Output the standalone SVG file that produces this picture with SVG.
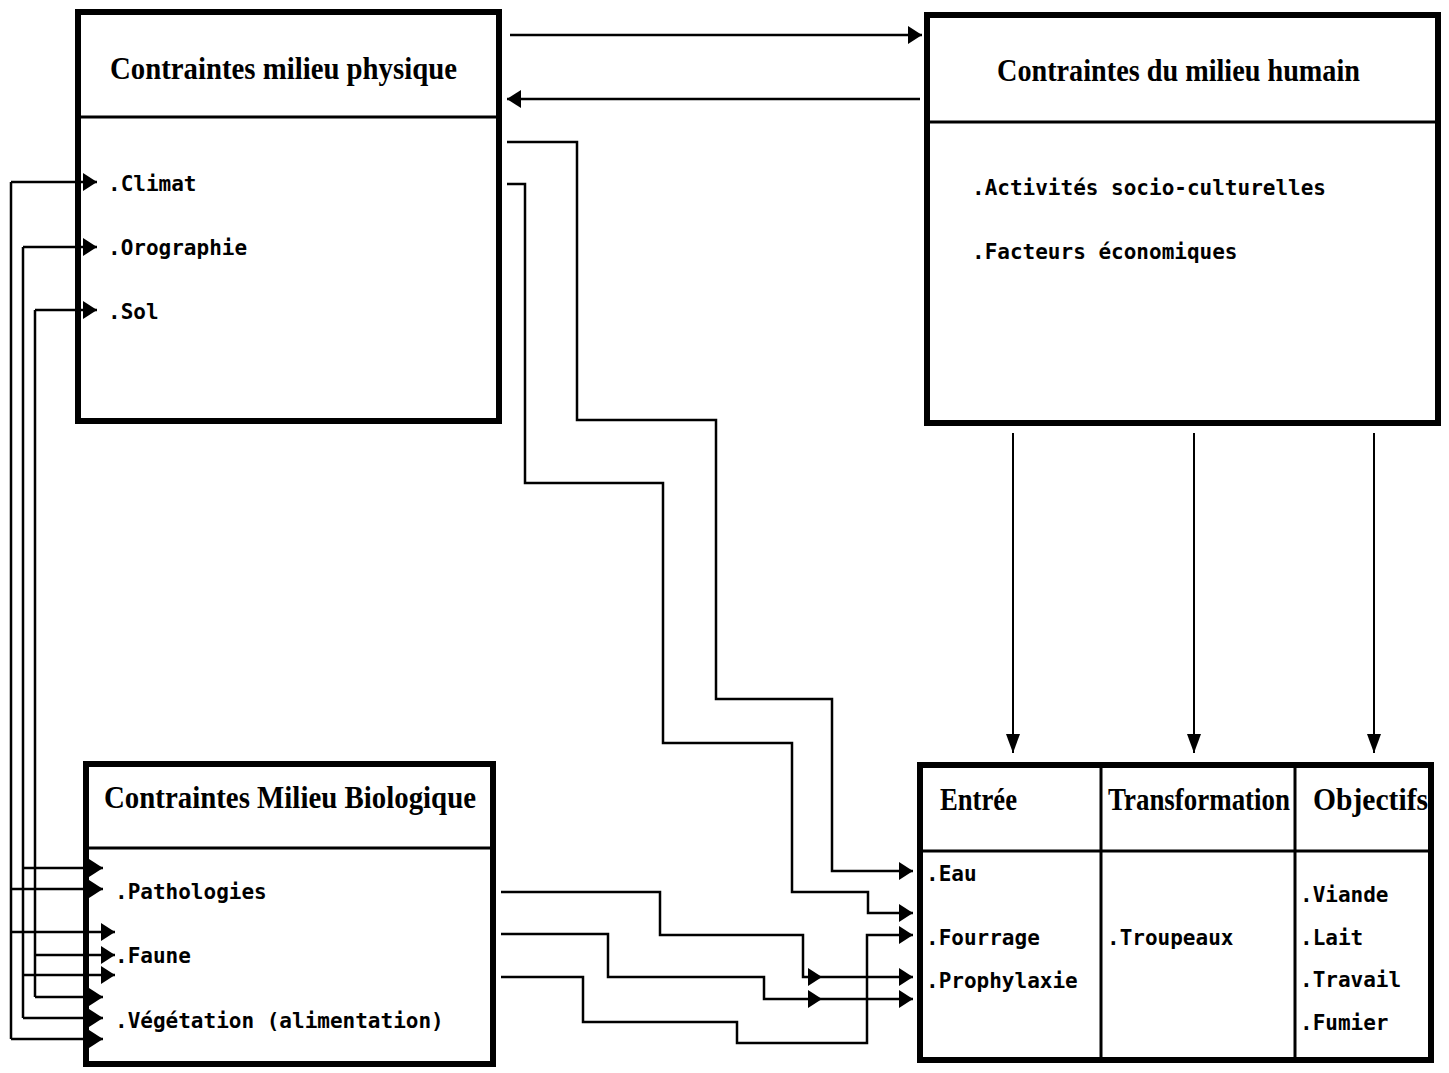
<svg xmlns="http://www.w3.org/2000/svg" width="1449" height="1073" viewBox="0 0 1449 1073">
<style>
.box{fill:#fff;stroke:#000;stroke-width:6}
.sep{stroke:#000;stroke-width:3;fill:none}
.hd{font-family:"Liberation Serif",serif;font-weight:bold;font-size:31px;fill:#000}
.it{font-family:"DejaVu Sans Mono","Liberation Mono",monospace;font-weight:bold;font-size:21px;fill:#000}
.ln{fill:none;stroke:#000;stroke-width:2.5}
.ar{fill:none;stroke:#000;stroke-width:2.5;marker-end:url(#ah)}
.dn{fill:none;stroke:#000;stroke-width:2;marker-end:url(#ad)}
</style>
<defs>
<marker id="ah" markerUnits="userSpaceOnUse" markerWidth="16" markerHeight="20" refX="14" refY="10" orient="auto">
<path d="M0,1 L14,10 L0,19 Z" fill="#000"/>
</marker>
<marker id="ad" markerUnits="userSpaceOnUse" markerWidth="20" markerHeight="14" refX="19" refY="7" orient="auto">
<path d="M0,0 L19,7 L0,14 Z" fill="#000"/>
</marker>
</defs>
<rect width="1449" height="1073" fill="#fff"/>

<g id="milieu-physique">
<rect class="box" x="78" y="12" width="421" height="409" stroke-width="7"/>
<line class="sep" x1="78" y1="117" x2="499" y2="117"/>
<text class="hd" x="110" y="79" textLength="347" lengthAdjust="spacingAndGlyphs">Contraintes milieu physique</text>
<text class="it" x="108" y="191">.Climat</text>
<text class="it" x="108" y="255">.Orographie</text>
<text class="it" x="108" y="319">.Sol</text>
</g>

<g id="milieu-humain">
<rect class="box" x="927" y="15" width="511" height="408" stroke-width="7"/>
<line class="sep" x1="927" y1="122" x2="1438" y2="122"/>
<text class="hd" x="997" y="81" textLength="363" lengthAdjust="spacingAndGlyphs">Contraintes du milieu humain</text>
<text class="it" x="972" y="195">.Activités socio-culturelles</text>
<text class="it" x="972" y="259">.Facteurs économiques</text>
</g>

<g id="milieu-biologique">
<rect class="box" x="86" y="764" width="407" height="300"/>
<line class="sep" x1="86" y1="848" x2="490" y2="848"/>
<text class="hd" x="104" y="808" textLength="372" lengthAdjust="spacingAndGlyphs">Contraintes Milieu Biologique</text>
<text class="it" x="115" y="899">.Pathologies</text>
<text class="it" x="115" y="963">.Faune</text>
<text class="it" x="115" y="1028">.Végétation (alimentation)</text>
</g>

<g id="systeme">
<rect class="box" x="920" y="765" width="511" height="295" stroke-width="7"/>
<line class="sep" x1="920" y1="851" x2="1431" y2="851"/>
<line class="sep" x1="1101" y1="765" x2="1101" y2="1060"/>
<line class="sep" x1="1295" y1="765" x2="1295" y2="1060"/>
<text class="hd" x="940" y="810" textLength="77" lengthAdjust="spacingAndGlyphs">Entrée</text>
<text class="hd" x="1108" y="810" textLength="182" lengthAdjust="spacingAndGlyphs">Transformation</text>
<text class="hd" x="1313" y="810" textLength="115" lengthAdjust="spacingAndGlyphs">Objectifs</text>
<text class="it" x="926" y="881">.Eau</text>
<text class="it" x="926" y="945">.Fourrage</text>
<text class="it" x="926" y="988">.Prophylaxie</text>
<text class="it" x="1107" y="945">.Troupeaux</text>
<text class="it" x="1300" y="902">.Viande</text>
<text class="it" x="1300" y="945">.Lait</text>
<text class="it" x="1300" y="987">.Travail</text>
<text class="it" x="1300" y="1030">.Fumier</text>
</g>

<g id="connectors">
<path class="ar" d="M510,35 H922"/>
<path class="ar" d="M920,99 H507"/>

<path class="dn" d="M1013,433 V753"/>
<path class="dn" d="M1194,433 V753"/>
<path class="dn" d="M1374,433 V753"/>

<path class="ln" d="M11,182 V1039"/>
<path class="ar" d="M11,182 H97"/>
<path class="ar" d="M11,889 H103"/>
<path class="ar" d="M11,932 H115"/>
<path class="ar" d="M11,1039 H103"/>

<path class="ln" d="M23,247 V1018"/>
<path class="ar" d="M23,247 H97"/>
<path class="ar" d="M23,868 H103"/>
<path class="ar" d="M23,975 H115"/>
<path class="ar" d="M23,1018 H103"/>

<path class="ln" d="M35,310 V997"/>
<path class="ar" d="M35,310 H97"/>
<path class="ar" d="M35,955 H115"/>
<path class="ar" d="M35,997 H103"/>

<path class="ar" d="M507,142 H577 V420 H716 V699 H832 V871 H913"/>
<path class="ar" d="M507,184 H525 V483 H663 V743 H792 V892 H868 V913 H913"/>

<path class="ar" d="M501,892 H660 V935 H803 V977 H822"/>
<path class="ar" d="M822,977 H913"/>
<path class="ar" d="M501,934 H608 V977 H764 V999 H822"/>
<path class="ar" d="M822,999 H913"/>
<path class="ar" d="M501,977 H583 V1022 H737 V1043 H867 V935 H913"/>
</g>
</svg>
